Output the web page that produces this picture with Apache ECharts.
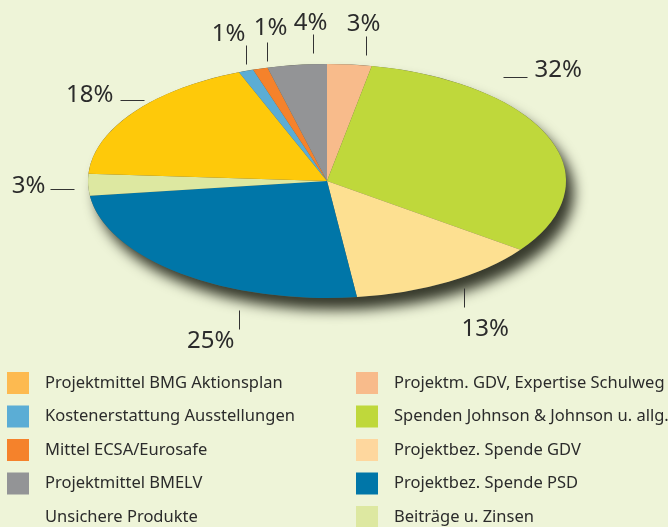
<!DOCTYPE html>
<html>
<head>
<meta charset="utf-8">
<script src="https://cdn.jsdelivr.net/npm/echarts@6/dist/echarts.min.js"></script>
<style>
  html, body { margin: 0; padding: 0; background: #eef4d8; }
  #chart { width: 668px; height: 527px; }
</style>
</head>
<body>
<div id="chart"></div>
<script>
// slices, clockwise from 12 o'clock
const names = [
  'Projektm. GDV, Expertise Schulweg',
  'Spenden Johnson & Johnson u. allg.',
  'Projektbez. Spende GDV',
  'Projektbez. Spende PSD',
  'Beiträge u. Zinsen',
  'Projektmittel BMG Aktionsplan',
  'Kostenerstattung Ausstellungen',
  'Mittel ECSA/Eurosafe',
  'Projektmittel BMELV',
  'Unsichere Produkte'
]
const values = [3, 32, 13, 25, 3, 18, 1, 1, 4, 0]
const colors = ['#f8bb8b', '#bfd83b', '#fde091', '#0076a8', '#dde8a1', '#fec90a', '#5badd5', '#f5822b', '#939496', 'transparent']
const legendLeft = names.slice(5)
const legendRight = names.slice(0, 5)

// legend swatches that are printed slightly different from the slice
const swatchColors = {
  'Projektmittel BMG Aktionsplan': '#fdba50',
  'Projektbez. Spende GDV': '#fed79e'
}

// label placement: angle shift from slice middle (deg), distance (x radius), leader direction, text align, nudge
const labelSpots = [
  [3.2, 1.09, 'up', 'center', -3, -12],
  [-28.8, 1.154, 'right', 'left', 7, -7],
  [-1.5, 1.08, 'down', 'left', -3, 22],
  [-19.4, 1.163, 'down', 'right', -5, 12],
  [-2, 1.063, 'left', 'right', -5, -3],
  [6, 1.031, 'left', 'right', -7, -5],
  [1.2, 1.057, 'up', 'center', -18, -11],
  [2.4, 1.056, 'up', 'center', 3, -14],
  [4.1, 1.096, 'up', 'center', -3, -11]
]

const CX = 327, CY = 181, RX = 239, RY = 117
const total = values.reduce((a, b) => a + b, 0)
const textColor = '#2b2b2b'

function sliceRenderer(i) {
  return function () {
    const v = values[i]
    if (!v) return
    const start = values.slice(0, i).reduce((a, b) => a + b, 0) / total
    const end = start + v / total
    const a0 = -Math.PI / 2 + start * 2 * Math.PI
    const a1 = -Math.PI / 2 + end * 2 * Math.PI

    const [shift, dist, dir, align, dx, dy] = labelSpots[i]
    const mid = ((start + end) / 2 * 360 + shift) * Math.PI / 180
    const px = Math.round(CX + RX * dist * Math.sin(mid)) + 0.5
    const py = Math.round(CY - RY * dist * Math.cos(mid)) + 0.5
    let ex = px, ey = py
    if (dir === 'up') ey -= 19
    if (dir === 'down') ey += 19
    if (dir === 'left') ex -= 24
    if (dir === 'right') ex += 24

    return {
      type: 'group',
      children: [
        {
          type: 'group', x: CX, y: CY, scaleY: RY / RX,
          children: [{
            type: 'sector',
            shape: { cx: 0, cy: 0, r0: 0, r: RX, startAngle: a0, endAngle: a1, clockwise: true },
            style: { fill: colors[i] }
          }]
        },
        { type: 'line', shape: { x1: px, y1: py, x2: ex, y2: ey }, style: { stroke: '#333', lineWidth: 1 } },
        {
          type: 'text', x: ex + dx, y: ey + dy,
          style: { text: v + '%', fill: textColor, fontSize: 24, fontFamily: 'Noto Sans', align, verticalAlign: 'middle' }
        }
      ]
    }
  }
}

// soft drop shadow under the whole ellipse
const shadowSeries = {
  type: 'custom', name: 'shadow', coordinateSystem: 'none', silent: true, data: [[0]],
  renderItem: () => ({
    type: 'ellipse',
    shape: { cx: CX, cy: CY, rx: RX, ry: RY },
    style: { fill: '#5a5d4c', shadowBlur: 13, shadowColor: 'rgba(55,58,44,1)', shadowOffsetX: 8, shadowOffsetY: 12 }
  })
}

const sliceSeries = names.map((name, i) => ({
  type: 'custom', name, coordinateSystem: 'none', silent: true,
  itemStyle: { color: colors[i] },
  data: [[values[i]]],
  renderItem: sliceRenderer(i)
}))

function legendFor(list, left) {
  return {
    orient: 'vertical', left, top: 372, height: 170, padding: 0,
    itemWidth: 22, itemHeight: 22, itemGap: 11.5,
    icon: 'rect', selectedMode: false,
    data: list.map(n => swatchColors[n] ? { name: n, itemStyle: { color: swatchColors[n] } } : n),
    textStyle: { color: textColor, fontSize: 16.5, fontFamily: 'Noto Sans', padding: [0, 0, 0, 11] }
  }
}

const chart = echarts.init(document.getElementById('chart'))
chart.setOption({
  backgroundColor: '#eef4d8',
  animation: false,
  legend: [legendFor(legendLeft, 7), legendFor(legendRight, 356)],
  series: [shadowSeries, ...sliceSeries]
})
</script>
</body>
</html>
